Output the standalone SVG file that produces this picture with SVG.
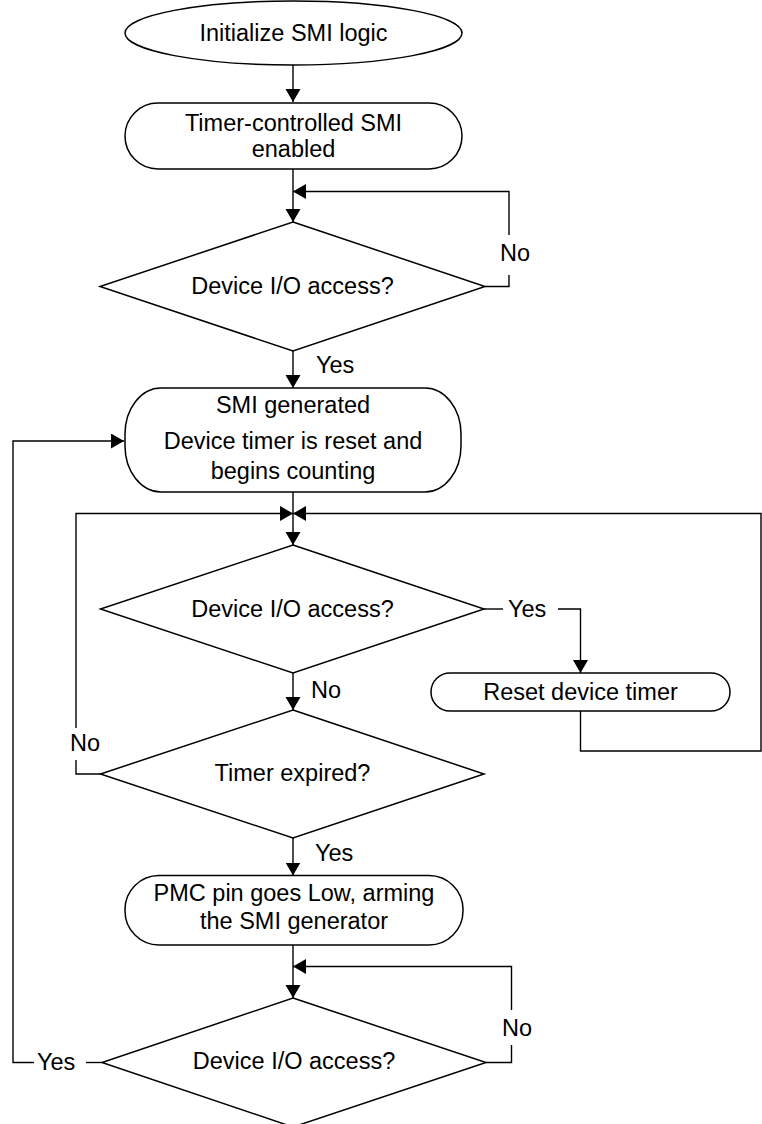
<svg xmlns="http://www.w3.org/2000/svg" width="762" height="1124" viewBox="0 0 762 1124">
<style>
.s{fill:#fff;stroke:#000;stroke-width:1.5}
.c{fill:none;stroke:#000;stroke-width:1.4}
text{font-family:"Liberation Sans",Arial,sans-serif;font-size:23.5px;fill:#000}
.m{text-anchor:middle}
</style>
<defs>
<marker id="a" markerUnits="userSpaceOnUse" markerWidth="14" markerHeight="16" refX="13" refY="7.5" orient="auto">
<path d="M0,0 L13,7.5 L0,15 z" fill="#000"/>
</marker>
</defs>
<rect width="762" height="1124" fill="#fff"/>
<g id="connectors">
<path class="c" d="M293,65 V102" marker-end="url(#a)"/>
<path class="c" d="M293,169 V222" marker-end="url(#a)"/>
<path class="c" d="M293,351 V388" marker-end="url(#a)"/>
<path class="c" d="M293,492 V545" marker-end="url(#a)"/>
<path class="c" d="M293,673 V710" marker-end="url(#a)"/>
<path class="c" d="M293,838 V875.5" marker-end="url(#a)"/>
<path class="c" d="M293,945 V998" marker-end="url(#a)"/>
<path class="c" d="M485,286.5 H509 V275"/>
<path class="c" d="M509,235 V191.5 H293" marker-end="url(#a)"/>
<path class="c" d="M484,609 H503"/>
<path class="c" d="M558,609 H580.5 V673" marker-end="url(#a)"/>
<path class="c" d="M580.5,711 V751 H761 V513.5 H293" marker-end="url(#a)"/>
<path class="c" d="M100.5,774 H76 V760"/>
<path class="c" d="M76,728 V513.5 H293" marker-end="url(#a)"/>
<path class="c" d="M486,1062.5 H511.5 V1045"/>
<path class="c" d="M511.5,1010 V966.5 H293" marker-end="url(#a)"/>
<path class="c" d="M102,1062.5 H86"/>
<path class="c" d="M34,1062.5 H13 V441 H124" marker-end="url(#a)"/>
</g>
<g id="start">
<ellipse class="s" cx="293.5" cy="33" rx="168.5" ry="32"/>
<text class="m" x="293.5" y="41">Initialize SMI logic</text>
</g>
<g id="enable">
<rect class="s" x="125" y="103" width="337" height="66" rx="33" ry="33"/>
<text class="m" x="293.5" y="131">Timer-controlled SMI</text>
<text class="m" x="293.5" y="157">enabled</text>
</g>
<g id="dec1">
<polygon class="s" points="293,222 485,286.5 293,351 100,286.5"/>
<text class="m" x="292.5" y="294">Device I/O access?</text>
</g>
<text x="500" y="261">No</text>
<text x="316" y="373">Yes</text>
<g id="smigen">
<rect class="s" x="125" y="388" width="336" height="104" rx="36" ry="46"/>
<text class="m" x="293" y="413">SMI generated</text>
<text class="m" x="293" y="449">Device timer is reset and</text>
<text class="m" x="293" y="479">begins counting</text>
</g>
<g id="dec2">
<polygon class="s" points="293,545 484,609 293,673 100.5,609"/>
<text class="m" x="292.5" y="617">Device I/O access?</text>
</g>
<text x="508" y="617">Yes</text>
<g id="reset">
<rect class="s" x="431" y="673" width="299" height="38" rx="19" ry="19"/>
<text class="m" x="580.5" y="700">Reset device timer</text>
</g>
<text x="311" y="698">No</text>
<text x="70" y="751">No</text>
<g id="dec3">
<polygon class="s" points="293,710 484,774 293,838 100.5,774"/>
<text class="m" x="292.5" y="781">Timer expired?</text>
</g>
<text x="315" y="861">Yes</text>
<g id="pmc">
<rect class="s" x="125" y="875.5" width="338" height="69.5" rx="34" ry="34"/>
<text class="m" x="294" y="901">PMC pin goes Low, arming</text>
<text class="m" x="294" y="929">the SMI generator</text>
</g>
<g id="dec4">
<polygon class="s" points="293,998 486,1062.5 293,1127 102,1062.5"/>
<text class="m" x="294" y="1069">Device I/O access?</text>
</g>
<text x="502" y="1036">No</text>
<text x="37" y="1070">Yes</text>
</svg>
